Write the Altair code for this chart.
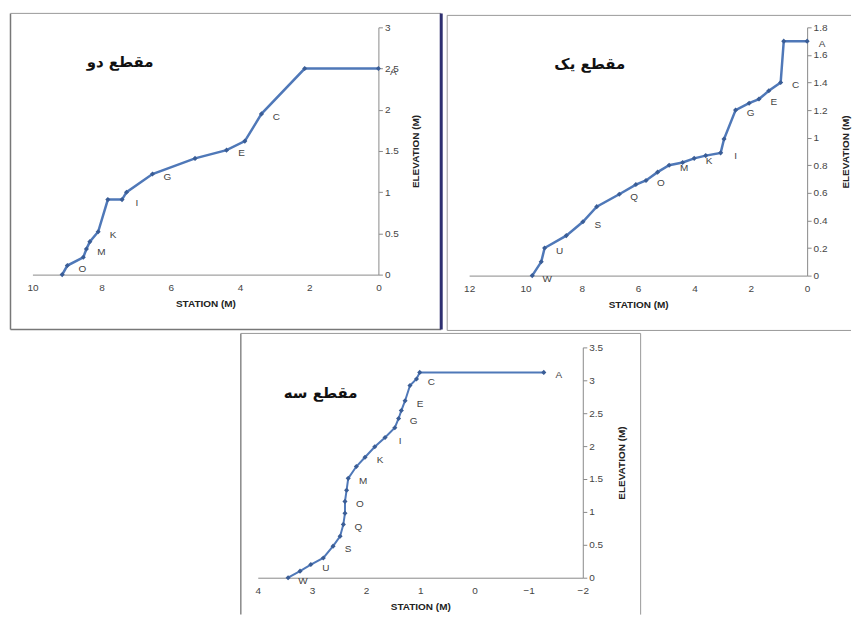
import altair as alt
import pandas as pd

# ---- data ----
# Section two (top-left)
st_two = [0, 2.13, 3.38, 3.86, 4.39, 5.30, 6.53, 7.28, 7.41, 7.82, 8.10, 8.34, 8.44, 8.53, 8.99, 9.14]
el_two = [2.5, 2.5, 1.95, 1.62, 1.51, 1.41, 1.22, 1.00, 0.91, 0.91, 0.52, 0.40, 0.31, 0.21, 0.11, 0.0]
lb_two = ["A", "", "C", "", "E", "", "G", "", "I", "", "K", "", "M", "", "O", ""]

# Section one (top-right)
st_one = [0, 0.83, 0.94, 1.36, 1.71, 2.06, 2.54, 2.95, 3.07, 3.60, 4.01, 4.42, 4.90, 5.31, 5.72, 6.08,
          6.67, 7.47, 7.96, 8.55, 9.32, 9.44, 9.76]
el_one = [1.70, 1.70, 1.40, 1.34, 1.28, 1.25, 1.20, 0.99, 0.89, 0.87, 0.85, 0.82, 0.80, 0.75, 0.69, 0.66,
          0.59, 0.50, 0.39, 0.29, 0.20, 0.10, 0.0]
lb_one = ["A", "", "C", "", "E", "", "G", "", "I", "", "K", "", "M", "", "O", "", "Q", "", "S", "", "U", "", "W"]

# Section three (bottom)
st_three = [-1.28, 1.01, 1.07, 1.19, 1.28, 1.35, 1.40, 1.47, 1.65, 1.84, 2.02, 2.18, 2.33, 2.36, 2.39, 2.39,
            2.42, 2.48, 2.61, 2.79, 3.02, 3.22, 3.44]
el_three = [3.12, 3.12, 3.02, 2.92, 2.69, 2.54, 2.42, 2.28, 2.13, 1.99, 1.83, 1.69, 1.51, 1.33, 1.16, 0.98,
            0.81, 0.63, 0.48, 0.30, 0.20, 0.10, 0.0]
lb_three = ["A", "", "C", "", "E", "", "G", "", "I", "", "K", "", "M", "", "O", "", "Q", "", "S", "", "U", "", "W"]

titles = ["مقطع دو", "مقطع یک", "مقطع سه"]
x_ticks_two = [10, 8, 6, 4, 2, 0]
x_ticks_one = [12, 10, 8, 6, 4, 2, 0]
x_ticks_three = [4, 3, 2, 1, 0, -1, -2]
y_ticks_two = [0, 0.5, 1, 1.5, 2, 2.5, 3]
y_ticks_one = [0, 0.2, 0.4, 0.6, 0.8, 1, 1.2, 1.4, 1.6, 1.8]
y_ticks_three = [0, 0.5, 1, 1.5, 2, 2.5, 3, 3.5]

LINE = "#4f78b8"
MARK = "#3a5d96"
FONT = "Liberation Sans"
one = pd.DataFrame({"k": [0]})


def panel(st, el, lb, xdom, xticks, ydom, yticks, w, h, title, txy, frame_rules, ytp, lw):
    df = pd.DataFrame({"st": st, "el": el, "lb": lb, "order": list(range(len(st)))})
    base = alt.Chart(df)
    x = alt.X("st:Q", scale=alt.Scale(domain=xdom, reverse=True, nice=False, zero=False),
              axis=alt.Axis(values=xticks, format="~r", title="STATION (M)", grid=False, ticks=False,
                            labelFlush=False, domainColor="#8a8a8a", labelColor="#444", labelFont=FONT,
                            labelFontSize=10, labelPadding=8, titleFont=FONT, titleFontSize=10,
                            titleFontWeight="bold", titleColor="#222", titlePadding=6))
    y = alt.Y("el:Q", scale=alt.Scale(domain=ydom, nice=False, zero=False),
              axis=alt.Axis(orient="right", values=yticks, format="~r", title="ELEVATION (M)", grid=False,
                            tickSize=4, tickColor="#8a8a8a", domainColor="#8a8a8a", labelColor="#444",
                            labelFont=FONT, labelFontSize=10, labelPadding=2, labelFlush=False,
                            titleFont=FONT, titleFontSize=10, titleFontWeight="bold", titleColor="#222",
                            titleAngle=270, titlePadding=ytp))
    line = base.mark_line(color=LINE, strokeWidth=lw).encode(x=x, y=y, order="order:Q")
    pts = base.mark_point(shape="diamond", filled=True, size=26, color=MARK, opacity=1).encode(x=x, y=y)
    txt = base.mark_text(font=FONT, fontSize=10, color="#444", dx=15, dy=3).encode(x=x, y=y, text="lb:N")
    ttl = alt.Chart(one).mark_text(font="DejaVu Sans", fontWeight="bold", fontSize=15, color="#111").encode(
        x=alt.value(txy[0]), y=alt.value(txy[1]), text=alt.value(title))
    layers = [line, pts, txt, ttl]
    for (x1, x2, y1, y2, col, sw) in frame_rules:
        layers.append(alt.Chart(one).mark_rule(color=col, strokeWidth=sw).encode(
            x=alt.value(x1), x2=alt.value(x2), y=alt.value(y1), y2=alt.value(y2)))
    return alt.layer(*layers).properties(width=w, height=h)


p_two = panel(st_two, el_two, lb_two, [0, 10], x_ticks_two, [0, 3], y_ticks_two, 347, 248, titles[0], (88, 35),
              [(-22, -22, -14, 303, "#777", 1.5), (-22, 410, -14, -14, "#999", 1),
               (-22, 410, 303, 303, "#777", 1.5), (410, 410, -14, 303, "#2e2f70", 3)], 22, 2.5)
p_one = panel(st_one, el_one, lb_one, [0, 12], x_ticks_one, [0, 1.8], y_ticks_one, 339, 249, titles[1], (121, 37),
              [(-22, -22, -12, 304, "#999", 1), (-22, 383, -12, -12, "#999", 1),
               (-22, 383, 304, 304, "#999", 1)], 24, 2.5)
p_three = panel(st_three, el_three, lb_three, [-2, 4], x_ticks_three, [0, 3.5], y_ticks_three, 326, 231,
                titles[2], (63, 46),
                [(-17, -17, -14, 268, "#888", 1.5), (-17, 384, -14, -14, "#999", 1),
                 (384, 384, -14, 268, "#999", 1)], 24, 2)

spacer = alt.Chart(one).mark_point(opacity=0).encode(x=alt.value(0), y=alt.value(0)).properties(width=206, height=10)

top = alt.hconcat(p_two, p_one, spacing=3)
bottom = alt.hconcat(spacer, p_three, spacing=2)
chart = alt.vconcat(top, bottom, spacing=1).properties(
    padding={"left": 1.5, "top": 2.5, "right": 0, "bottom": 0}
).configure_view(stroke=None)

chart.save("out.html", embed_options={"renderer": "svg", "actions": False})
